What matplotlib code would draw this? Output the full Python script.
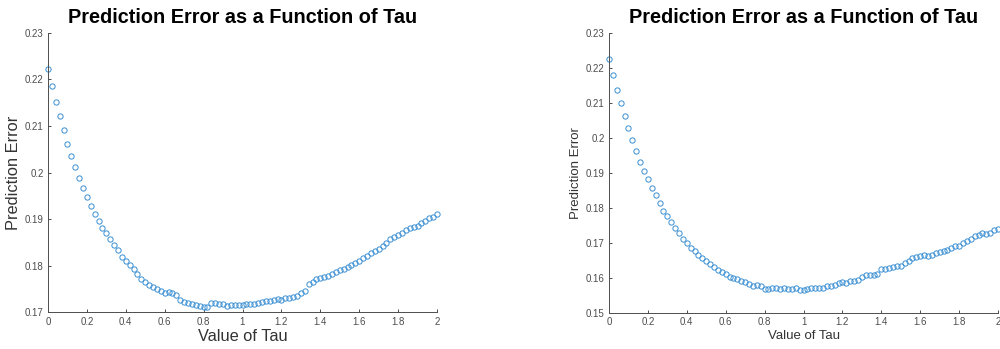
import numpy as np
import matplotlib
matplotlib.use("Agg")
import matplotlib.pyplot as plt

plt.rcParams["font.family"] = ["Liberation Sans", "DejaVu Sans"]

# tau values, step 0.02 from 0 to 2
tau = np.round(np.arange(0, 101) * 0.02, 2)

error_left = [
    0.2223, 0.2186, 0.2152, 0.2121, 0.2091, 0.2061, 0.2035, 0.2011, 0.1988, 0.1967,
    0.1947, 0.1929, 0.1912, 0.1897, 0.1882, 0.1870, 0.1857, 0.1845, 0.1833, 0.1819,
    0.1811, 0.1801, 0.1794, 0.1782, 0.1772, 0.1766, 0.1759, 0.1755, 0.1751, 0.1745,
    0.1741, 0.1744, 0.1741, 0.1737, 0.1726, 0.1723, 0.1720, 0.1717, 0.1715, 0.1713,
    0.1711, 0.1711, 0.1721, 0.1720, 0.1718, 0.1718, 0.1714, 0.1715, 0.1715, 0.1715,
    0.1716, 0.1717, 0.1717, 0.1718, 0.1720, 0.1722, 0.1724, 0.1725, 0.1727, 0.1728,
    0.1726, 0.1730, 0.1731, 0.1733, 0.1735, 0.1741, 0.1746, 0.1761, 0.1766, 0.1771,
    0.1774, 0.1775, 0.1779, 0.1782, 0.1786, 0.1791, 0.1794, 0.1798, 0.1801, 0.1805,
    0.1811, 0.1817, 0.1822, 0.1828, 0.1832, 0.1837, 0.1842, 0.1849, 0.1858, 0.1862,
    0.1865, 0.1871, 0.1877, 0.1881, 0.1884, 0.1886, 0.1892, 0.1897, 0.1902, 0.1905,
    0.1911,
]

error_right = [
    0.2225, 0.2178, 0.2137, 0.2099, 0.2061, 0.2027, 0.1993, 0.1962, 0.1932, 0.1906,
    0.1881, 0.1856, 0.1835, 0.1814, 0.1792, 0.1775, 0.1759, 0.1742, 0.1727, 0.1710,
    0.1699, 0.1686, 0.1675, 0.1666, 0.1656, 0.1647, 0.1638, 0.1630, 0.1622, 0.1617,
    0.1610, 0.1603, 0.1600, 0.1595, 0.1590, 0.1587, 0.1583, 0.1576, 0.1579, 0.1576,
    0.1568, 0.1568, 0.1570, 0.1570, 0.1569, 0.1571, 0.1567, 0.1569, 0.1572, 0.1565,
    0.1566, 0.1568, 0.1571, 0.1572, 0.1571, 0.1572, 0.1576, 0.1577, 0.1578, 0.1584,
    0.1587, 0.1586, 0.1590, 0.1592, 0.1594, 0.1603, 0.1608, 0.1608, 0.1609, 0.1612,
    0.1624, 0.1626, 0.1629, 0.1631, 0.1634, 0.1634, 0.1643, 0.1649, 0.1655, 0.1659,
    0.1661, 0.1666, 0.1662, 0.1664, 0.1670, 0.1673, 0.1675, 0.1678, 0.1685, 0.1692,
    0.1692, 0.1698, 0.1704, 0.1711, 0.1719, 0.1723, 0.1729, 0.1725, 0.1729, 0.1736,
    0.1738,
]

x_ticks = [0, 0.2, 0.4, 0.6, 0.8, 1, 1.2, 1.4, 1.6, 1.8, 2]
x_tick_labels = ["0", "0.2", "0.4", "0.6", "0.8", "1", "1.2", "1.4", "1.6", "1.8", "2"]
y_ticks_left = [0.17, 0.18, 0.19, 0.2, 0.21, 0.22, 0.23]
y_ticks_right = [0.15, 0.16, 0.17, 0.18, 0.19, 0.2, 0.21, 0.22, 0.23]

title = "Prediction Error as a Function of Tau"
marker_color = "#3a8fd3"
axis_color = "#4d4d4d"


def style_axes(ax, y_ticks, label_size):
    ax.set_xlim(0, 2)
    ax.set_ylim(y_ticks[0], y_ticks[-1])
    ax.set_xticks(x_ticks)
    ax.set_xticklabels(x_tick_labels)
    ax.set_yticks(y_ticks)
    ax.set_yticklabels([f"{t:g}" for t in y_ticks])
    for side in ("top", "right"):
        ax.spines[side].set_visible(False)
    for side in ("left", "bottom"):
        ax.spines[side].set_color(axis_color)
        ax.spines[side].set_linewidth(0.7)
    ax.tick_params(direction="in", length=2.5, width=0.7, colors=axis_color,
                   labelsize=7, pad=3)
    ax.set_title(title, fontsize=14.3, fontweight="bold", pad=7)
    ax.set_xlabel("Value of Tau", fontsize=label_size, color="#333333", labelpad=2)
    ax.set_ylabel("Prediction Error", fontsize=label_size, color="#333333", labelpad=3)


fig = plt.figure(figsize=(10, 3.49), dpi=100)
ax_left = fig.add_axes([0.048, 0.105, 0.389, 0.801])
ax_right = fig.add_axes([0.609, 0.104, 0.389, 0.802])

for ax, err, yt, size in ((ax_left, error_left, y_ticks_left, 11.8),
                          (ax_right, error_right, y_ticks_right, 9.5)):
    ax.plot(tau, err, linestyle="none", marker="o", markersize=3.8,
            markerfacecolor="none", markeredgecolor=marker_color,
            markeredgewidth=0.7, clip_on=False)
    style_axes(ax, yt, size)

fig.savefig("out.png", dpi=100)
